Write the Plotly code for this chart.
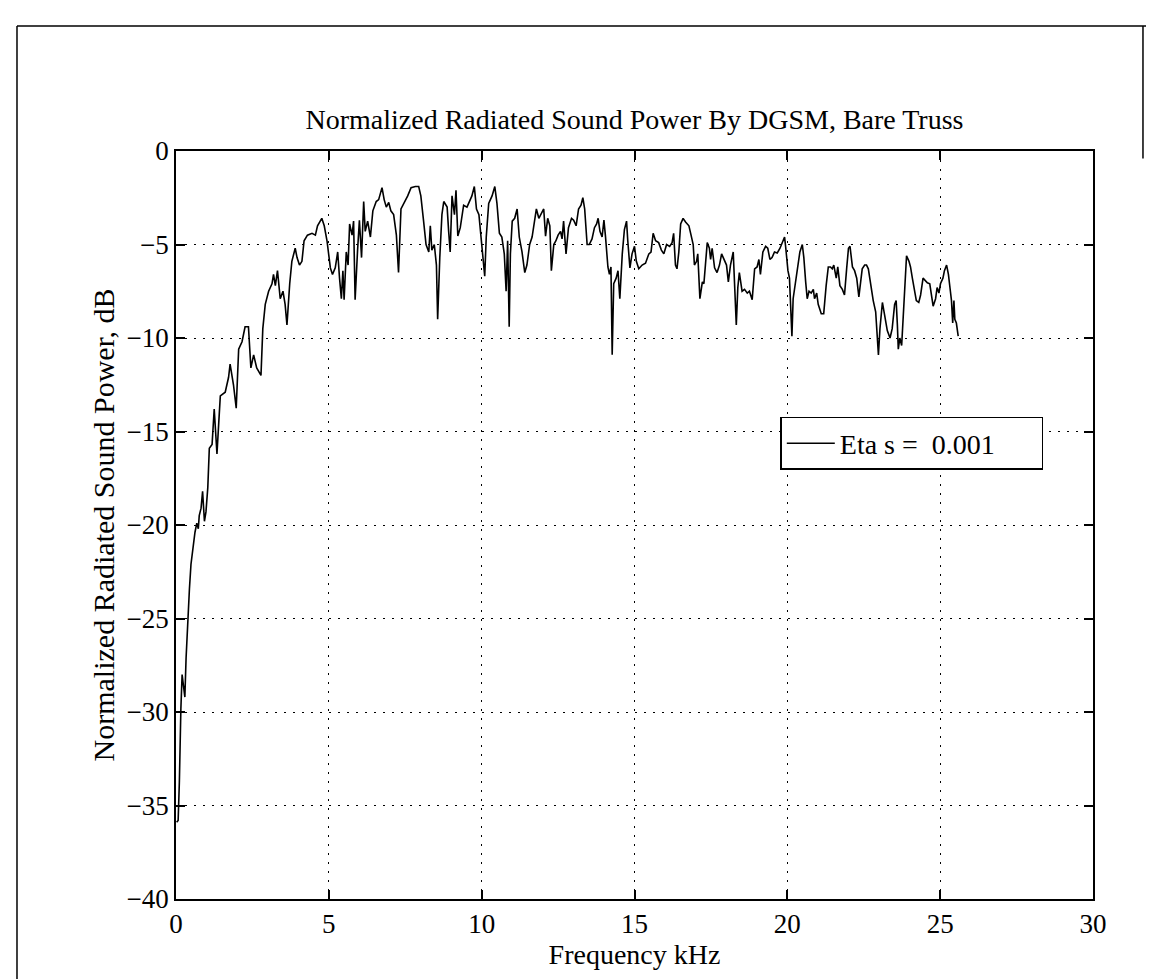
import plotly.graph_objects as go

freq_khz = [
    0.02, 0.07, 0.11, 0.13, 0.16, 0.20, 0.24, 0.29, 0.33, 0.38, 0.44, 0.49, 0.55, 0.62, 0.68, 0.73,
    0.76, 0.82, 0.87, 0.93, 0.98, 1.04, 1.09, 1.18, 1.25, 1.34, 1.40, 1.45,
    1.61, 1.72, 1.77, 1.88, 1.97, 2.05, 2.16, 2.26, 2.37, 2.45, 2.54, 2.64, 2.78, 2.84, 2.92, 3.03,
    3.14, 3.19, 3.25, 3.32, 3.41, 3.50, 3.57, 3.63, 3.72, 3.79, 3.90, 3.96, 4.04, 4.12, 4.19, 4.30,
    4.45, 4.56, 4.63, 4.77, 4.85, 4.94, 5.05, 5.12, 5.21, 5.29, 5.35, 5.41, 5.46, 5.50, 5.57, 5.63,
    5.68, 5.76, 5.81, 5.86, 5.94, 6.00, 6.07, 6.14, 6.19, 6.27, 6.36, 6.44, 6.55, 6.63, 6.74, 6.81,
    6.88, 6.96, 7.03, 7.12, 7.21, 7.28, 7.36, 7.47, 7.58, 7.69, 7.83, 7.94, 8.01, 8.10, 8.18, 8.27,
    8.32, 8.37, 8.45, 8.52, 8.56, 8.63, 8.70,
    8.76, 8.87, 8.92, 8.97, 9.03, 9.11, 9.16, 9.22, 9.30, 9.41, 9.52, 9.61, 9.68, 9.76, 9.83, 9.91,
    9.98, 10.04, 10.10, 10.15, 10.23, 10.34, 10.43, 10.50, 10.58, 10.66, 10.74, 10.80, 10.85, 10.90,
    10.94, 11.00, 11.08, 11.16, 11.23, 11.32, 11.41, 11.48, 11.57, 11.65, 11.72, 11.79, 11.87, 11.94,
    12.03, 12.09, 12.16, 12.23, 12.28, 12.36, 12.43, 12.50, 12.58, 12.63, 12.68, 12.76, 12.84, 12.94,
    13.01, 13.09, 13.17, 13.25, 13.31, 13.37, 13.45, 13.52, 13.61, 13.69, 13.76, 13.81, 13.87, 13.94,
    14.00, 14.05, 14.13, 14.18, 14.23, 14.27, 14.32, 14.40, 14.46, 14.52, 14.60, 14.67, 14.74, 14.78,
    14.85, 14.92, 15.00, 15.06, 15.14, 15.25, 15.36, 15.47, 15.54, 15.61, 15.69, 15.79, 15.88, 15.96,
    16.05, 16.15, 16.23, 16.28, 16.34, 16.39, 16.45, 16.51, 16.59, 16.67, 16.78, 16.85, 16.92, 16.96,
    17.03, 17.07, 17.14, 17.22, 17.27, 17.32, 17.38, 17.45, 17.49, 17.54, 17.62, 17.70, 17.78, 17.85,
    17.92, 18.01, 18.07, 18.14, 18.23, 18.28,
    18.33, 18.38, 18.43, 18.52, 18.60, 18.69, 18.76, 18.85, 18.93, 19.01, 19.07, 19.12, 19.20, 19.29,
    19.36, 19.43, 19.50, 19.58, 19.67, 19.76, 19.83, 19.91, 19.95, 20.02, 20.07, 20.10, 20.15, 20.19,
    20.27, 20.35, 20.41, 20.49, 20.54, 20.60, 20.65, 20.71, 20.78, 20.85, 20.89, 20.96, 21.01, 21.11,
    21.19, 21.27, 21.34, 21.41, 21.47, 21.52, 21.60, 21.65, 21.72, 21.80, 21.87, 21.94, 22.00, 22.05,
    22.13, 22.20, 22.27, 22.34, 22.40, 22.45, 22.53, 22.59, 22.65, 22.72, 22.81, 22.89, 22.94, 22.98,
    23.03, 23.11, 23.18, 23.27, 23.36, 23.43, 23.51, 23.56, 23.60, 23.63, 23.68, 23.74, 23.79, 23.85,
    23.90, 23.98, 24.03, 24.09, 24.14, 24.22, 24.30, 24.36, 24.44, 24.50, 24.58, 24.66, 24.72, 24.77,
    24.85, 24.90, 24.96, 25.01, 25.09, 25.14, 25.21, 25.27, 25.32, 25.37, 25.41, 25.45, 25.48, 25.53,
    25.59,
]

power_db = [
    -35.9, -35.8, -33.75, -31.6, -29.8, -28.0, -28.6, -29.2, -27.1, -25.2, -23.4, -22.1, -21.25, -20.4, -19.9, -20.2,
    -19.5, -19.1, -18.2, -19.8, -19.3, -18.0, -15.9, -15.7, -13.8, -16.2, -14.5, -13.1,
    -12.9, -12.1, -11.4, -12.5, -13.75, -10.6, -10.2, -9.4, -9.4, -11.6, -10.9, -11.6, -12.0, -9.5, -8.2, -7.5,
    -7.1, -6.6, -7.2, -6.4, -7.9, -7.5, -8.2, -9.3, -7.1, -5.9, -5.2, -5.7, -6.1, -5.9, -4.8, -4.5,
    -4.4, -4.5, -4.0, -3.6, -4.0, -4.8, -6.25, -6.6, -6.25, -5.4, -6.8, -7.9, -6.4, -7.95, -5.4, -6.1,
    -3.9, -4.5, -3.75, -7.95, -5.3, -3.7, -5.7, -2.7, -4.3, -3.75, -4.6, -3.2, -2.7, -2.6, -1.96, -2.6,
    -3.0, -2.75, -3.2, -3.4, -4.5, -6.5, -3.1, -2.75, -2.4, -1.96, -1.9, -1.9, -2.4, -3.75, -5.0, -5.4,
    -4.0, -5.3, -5.0, -6.1, -9.0, -5.7, -3.4,
    -2.7, -3.0, -4.3, -5.4, -2.4, -3.4, -2.1, -4.55, -4.1, -2.9, -3.0, -2.7, -2.4, -1.9, -3.1, -3.4,
    -4.6, -5.5, -6.7, -4.6, -2.8, -2.4, -1.9, -2.8, -4.4, -4.6, -5.5, -7.5, -4.8, -9.4,
    -5.5, -3.75, -3.6, -3.1, -4.6, -5.4, -6.5, -6.1, -5.0, -4.6, -3.75, -3.1, -3.6, -3.4,
    -3.1, -4.55, -3.6, -4.0, -6.4, -5.0, -4.8, -4.5, -4.3, -4.7, -3.75, -5.5, -4.1, -3.6,
    -3.7, -4.0, -3.1, -2.9, -2.5, -3.1, -5.0, -5.0, -4.7, -4.1, -3.9, -3.6, -4.3, -4.6,
    -3.7, -4.55, -6.2, -6.6, -6.2, -10.9, -7.1, -6.8, -6.4, -7.9, -5.5, -4.2, -3.75, -4.8,
    -6.25, -5.5, -5.1, -5.9, -6.3, -6.1, -6.0, -5.5, -5.4, -4.4, -4.8, -4.9, -5.3, -5.5,
    -5.0, -5.1, -4.9, -4.4, -6.1, -6.3, -5.4, -3.9, -3.6, -3.8, -4.0, -4.5, -5.0, -6.1,
    -5.9, -5.5, -7.9, -7.0, -7.1, -6.1, -4.9, -5.2, -5.8, -5.2, -6.25, -6.5, -6.1, -5.5,
    -5.8, -6.1, -7.0, -6.1, -5.4, -7.3,
    -9.3, -7.3, -6.5, -7.5, -7.4, -7.6, -7.5, -7.95, -6.3, -6.2, -5.8, -6.6, -5.4, -5.1,
    -5.2, -5.8, -5.7, -5.4, -5.45, -5.2, -4.9, -4.6, -5.2, -6.4, -6.8, -8.2, -9.9, -7.9,
    -7.0, -5.9, -5.4, -5.0, -5.7, -7.0, -7.9, -7.5, -7.6, -7.4, -7.9, -7.6, -8.2, -8.7,
    -8.7, -7.2, -6.2, -6.2, -6.3, -6.1, -6.8, -6.2, -7.2, -7.4, -7.7, -6.3, -5.2, -5.1,
    -6.2, -6.4, -6.8, -7.8, -6.8, -6.3, -6.1, -6.1, -6.3, -7.1, -8.0, -8.6, -10.0, -10.9,
    -9.5, -8.1, -8.75, -9.6, -10.0, -9.5, -8.2, -8.0, -9.3, -10.6, -10.0, -10.4, -8.9, -7.3,
    -5.6, -5.9, -6.2, -6.8, -7.3, -8.0, -8.1, -7.7, -6.8, -6.9, -7.05, -7.1, -7.7, -8.3,
    -7.9, -7.3, -7.6, -7.1, -6.8, -6.4, -6.1, -6.6, -7.3, -8.0, -9.2, -8.0, -9.0, -9.2,
    -9.9,
]

x_ticks = [0, 5, 10, 15, 20, 25, 30]
y_ticks = [0, -5, -10, -15, -20, -25, -30, -35, -40]

title_text = "Normalized Radiated Sound Power By DGSM, Bare Truss"
x_title = "Frequency kHz"
y_title = "Normalized Radiated Sound Power, dB"
legend_name = "Eta s =  0.001"

FONT = "Liberation Serif"

fig = go.Figure()
fig.add_trace(go.Scatter(
    x=freq_khz, y=power_db, mode="lines", name=legend_name + "\u00a0" * 6,
    line=dict(color="black", width=1.6), showlegend=True,
))

axis_common = dict(
    showline=True, linecolor="black", linewidth=1.8, mirror="ticks",
    ticks="inside", ticklen=9, tickwidth=1.5, tickcolor="black",
    showgrid=True, gridcolor="black", gridwidth=1, griddash="1.5px,7.5px",
    zeroline=False, tickfont=dict(family=FONT, size=27, color="black"),
)

fig.update_xaxes(range=[0, 30], tickvals=x_ticks, ticktext=[str(v) for v in x_ticks],
                 title=dict(text=x_title, font=dict(family=FONT, size=28, color="black"), standoff=2),
                 **axis_common)
fig.update_yaxes(range=[-40, 0], tickvals=y_ticks,
                 title=dict(text=y_title, font=dict(family=FONT, size=30, color="black"), standoff=3),
                 **axis_common)

fig.update_layout(
    width=1154, height=979,
    margin=dict(l=168, r=69, t=143, b=88),
    paper_bgcolor="white", plot_bgcolor="white",
    title=dict(text=title_text, font=dict(family=FONT, size=28, color="black"),
               x=0.5, xref="paper", xanchor="center", y=1 - 111 / 979, yanchor="middle"),
    legend=dict(x=0.659, y=0.6444, xanchor="left", yanchor="top",
                bgcolor="white", bordercolor="black", borderwidth=1.5,
                font=dict(family=FONT, size=28, color="black"),
                itemwidth=48),
    font=dict(family=FONT, color="black"),
)

# outer page frame (scanned page border)
frame = dict(color="black", width=1.5)
fig.add_shape(type="line", xref="paper", yref="paper", x0=-0.1734, x1=-0.1734, y0=-0.13, y1=1.1671, line=frame)
fig.add_shape(type="line", xref="paper", yref="paper", x0=-0.1734, x1=1.08, y0=1.1671, y1=1.1671, line=frame)
fig.add_shape(type="line", xref="paper", yref="paper", x0=1.0545, x1=1.0545, y0=0.99, y1=1.1671, line=frame)
fig.add_shape(type="line", xref="paper", yref="paper", x0=-0.1734, x1=-0.1472, y0=-0.1163, y1=-0.1163, line=frame)

fig.write_html("out.html")
